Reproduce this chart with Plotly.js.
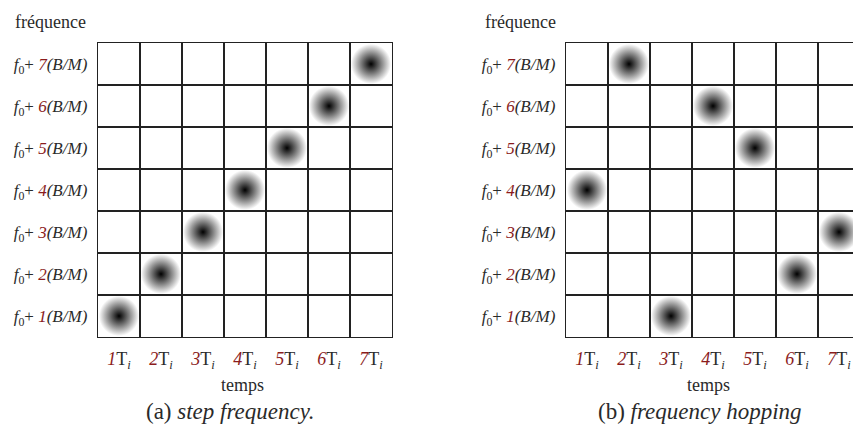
<!DOCTYPE html>
<html>
<head>
<meta charset="utf-8">
<script src="https://cdn.plot.ly/plotly-3.0.1.min.js"></script>
<style>html,body{margin:0;padding:0;background:#fff;}#chart{width:853px;height:430px;}</style>
</head>
<body>
<div id="chart"></div>
<script>
// ---- data ----
var timeSlots = [1, 2, 3, 4, 5, 6, 7];
var freqLevels = [1, 2, 3, 4, 5, 6, 7];
var stepFreq = [1, 2, 3, 4, 5, 6, 7];      // (a) frequency index for each time slot
var hopFreq  = [4, 7, 1, 6, 5, 2, 3];      // (b) frequency index for each time slot
var xTickText = timeSlots.map(function (n) { return "<span style='color:#8b1c1c'><i>" + n + "</i></span>T<sub><i>i</i></sub>"; });
var yTickText = freqLevels.map(function (n) { return "<i>f</i><sub>0</sub>+ <span style='color:#8b1c1c'><i>" + n + "</i></span><i>(B/M)</i>"; });
var captionA = "(a) <i>step frequency.</i>";
var captionB = "(b) <i>frequency hopping</i>";
var xTitle = "temps";
var yTitle = "fréquence";

// ---- helpers ----
var edges = [timeSlots[0] - 0.5].concat(timeSlots.map(function (v) { return v + 0.5; }));
var FONT = "Liberation Serif, serif";
var LINE = "#222";
var TXT = "#2a2a2a";

function blobTrace(y, xa, ya) {
  return {
    type: "scatter", mode: "markers", x: timeSlots, y: y, xaxis: xa, yaxis: ya,
    hoverinfo: "skip", showlegend: false, cliponaxis: true,
    marker: { symbol: "square", size: 40, color: "#ffffff",
      gradient: { type: "radial", color: "#000000" }, line: { width: 0 } }
  };
}

function xAxis(domain, range, anchor) {
  return {
    domain: domain, range: range, anchor: anchor, fixedrange: true,
    tickmode: "array", tickvals: timeSlots, ticktext: xTickText, ticks: "",
    ticklabelstandoff: 5,
    showgrid: false, zeroline: false,
    showline: true, mirror: true, linecolor: LINE, linewidth: 1.3,
    minor: { tickmode: "array", tickvals: edges, showgrid: true, gridcolor: LINE, gridwidth: 1.3, ticks: "" },
    tickfont: { family: FONT, size: 18, color: TXT }
  };
}
function yAxis(domain, anchor, mirror) {
  return {
    domain: domain, range: [0.5, 7.5], anchor: anchor, fixedrange: true,
    tickmode: "array", tickvals: freqLevels, ticktext: yTickText, ticks: "",
    ticklabelstandoff: 6,
    showgrid: false, zeroline: false,
    showline: true, mirror: mirror, linecolor: LINE, linewidth: 1.3,
    minor: { tickmode: "array", tickvals: edges, showgrid: true, gridcolor: LINE, gridwidth: 1.3, ticks: "" },
    tickfont: { family: FONT, size: 17, color: TXT }
  };
}

var W = 853, H = 430;
var yDom = [1 - 337 / H, 1 - 43 / H];
var xDomA = [98 / W, 392 / W];
var xDomB = [566 / W, 1];
var rangeB = [0.5, 0.5 + (W - 566) / 42];

var data = [blobTrace(stepFreq, "x", "y"), blobTrace(hopFreq, "x2", "y2")];

function ann(text, x, y, size) {
  return { text: text, x: x, y: y, xref: "paper", yref: "paper", xanchor: "center", yanchor: "middle",
    showarrow: false, font: { family: FONT, size: size, color: TXT } };
}

var layout = {
  width: W, height: H, margin: { l: 0, r: 0, t: 0, b: 0 },
  paper_bgcolor: "#fff", plot_bgcolor: "#fff", showlegend: false,
  xaxis: xAxis(xDomA, [0.5, 7.5], "y"),
  yaxis: yAxis(yDom, "x", true),
  xaxis2: xAxis(xDomB, rangeB, "y2"),
  yaxis2: yAxis(yDom, "x2", false),
  annotations: [
    ann(yTitle, 50 / W, 1 - 22 / H, 18),
    ann(yTitle, 520 / W, 1 - 22 / H, 18),
    ann(xTitle, 243 / W, 1 - 385 / H, 18),
    ann(xTitle, 708 / W, 1 - 385 / H, 18),
    ann(captionA, 230 / W, 1 - 411 / H, 23),
    ann(captionB, 700 / W, 1 - 411 / H, 23)
  ]
};

Plotly.newPlot("chart", data, layout, { staticPlot: true, displayModeBar: false });
</script>
</body>
</html>
